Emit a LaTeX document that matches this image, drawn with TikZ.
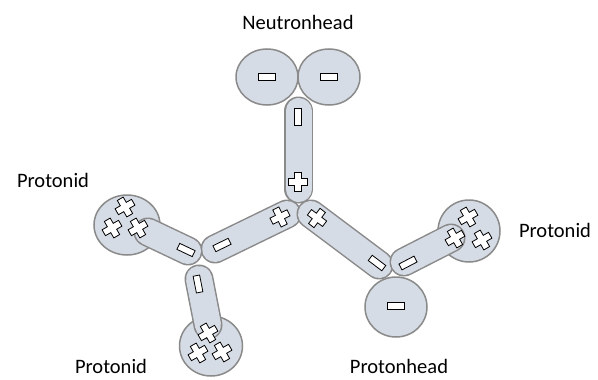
\documentclass[tikz,border=0pt]{standalone}
\usepackage{fontspec}
\setmainfont{Carlito}
\usetikzlibrary{shapes.geometric}
\definecolor{blobfill}{HTML}{D6DCE5}
\definecolor{blobedge}{HTML}{8A8A8A}
\tikzset{
  blob/.style={ellipse, draw=blobedge, fill=blobfill, line width=1.5pt, inner sep=0pt},
  capsule/.style={draw=blobedge, line width=1.5pt, double=blobfill, double distance=26pt, line cap=round},
  signstyle/.style={draw=black, fill=white, line width=0.8pt, line join=miter},
  lbl/.style={font=\fontsize{20.5}{24}\selectfont, inner sep=0pt},
  plussign/.pic={\draw[signstyle] (-3.4,9.5)--(3.4,9.5)--(3.4,3.4)--(9.5,3.4)--(9.5,-3.4)--(3.4,-3.4)--(3.4,-9.5)--(-3.4,-9.5)--(-3.4,-3.4)--(-9.5,-3.4)--(-9.5,3.4)--(-3.4,3.4)--cycle;},
  minussign/.pic={\draw[signstyle] (-8.5,-3.3) rectangle (8.5,3.3);}
}
\begin{document}
\begin{tikzpicture}[x=1pt,y=-1pt]
\useasboundingbox (0,0) rectangle (598,380);
% heads / clusters
\node[blob, minimum width=62pt, minimum height=56pt] (nl) at (267,77) {};
\node[blob, minimum width=62pt, minimum height=56pt] (nr) at (329,77) {};
\node[blob, minimum width=66pt, minimum height=60pt] (ulc) at (127,225) {};
\node[blob, minimum width=63pt, minimum height=60pt] (lc) at (211,346) {};
\node[blob, minimum width=62pt, minimum height=62pt] (rc) at (469,231) {};
\node[blob, minimum width=62pt, minimum height=60pt] (ph) at (396,307) {};
% capsule axes
\coordinate (v1) at (298.5,111);
\coordinate (v2) at (298.5,189);
\coordinate (a1) at (287,214);
\coordinate (a2) at (215,249);
\coordinate (b1) at (188,251);
\coordinate (b2) at (148,232);
\coordinate (c1) at (199,279);
\coordinate (c2) at (208,325);
\coordinate (d1) at (311,214);
\coordinate (d2) at (379,265);
\coordinate (e1) at (404,262);
\coordinate (e2) at (451,238);
\draw[capsule] (v1) -- (v2);
\draw[capsule] (a1) -- (a2);
\draw[capsule] (b1) -- (b2);
\draw[capsule] (c1) -- (c2);
\draw[capsule] (d1) -- (d2);
\draw[capsule] (e1) -- (e2);
% signs in heads
\pic at (nl) {minussign};
\pic at (nr) {minussign};
\pic at (396,306) {minussign};
% signs in capsules
\pic[rotate=90] at (298,117) {minussign};
\pic at (298,182) {plussign};
\pic[rotate=25.9] at (280,217) {plussign};
\pic[rotate=25.9] at (222,245) {minussign};
\pic[rotate=-25.4] at (186,250) {minussign};
\pic[rotate=-78.9] at (198,284) {minussign};
\pic[rotate=-36.9] at (317,218) {plussign};
\pic[rotate=-36.9] at (377,263) {minussign};
\pic[rotate=27.6] at (408,263) {minussign};
% pluses in clusters
\pic[rotate=30] at (125,207) {plussign};
\pic[rotate=30] at (112,228) {plussign};
\pic[rotate=30] at (138,228) {plussign};
\pic[rotate=30] at (208,333) {plussign};
\pic[rotate=30] at (198,353) {plussign};
\pic[rotate=30] at (222,352) {plussign};
\pic[rotate=30] at (468,217) {plussign};
\pic[rotate=30] at (455,238) {plussign};
\pic[rotate=30] at (482,240) {plussign};
% labels
\node[lbl] (tn) at (298,22) {Neutronhead};
\node[lbl] (tul) at (53,180) {Protonid};
\node[lbl] (tr) at (555,230) {Protonid};
\node[lbl] (tll) at (111,366) {Protonid};
\node[lbl] (tph) at (399,366) {Protonhead};
\end{tikzpicture}
\end{document}
